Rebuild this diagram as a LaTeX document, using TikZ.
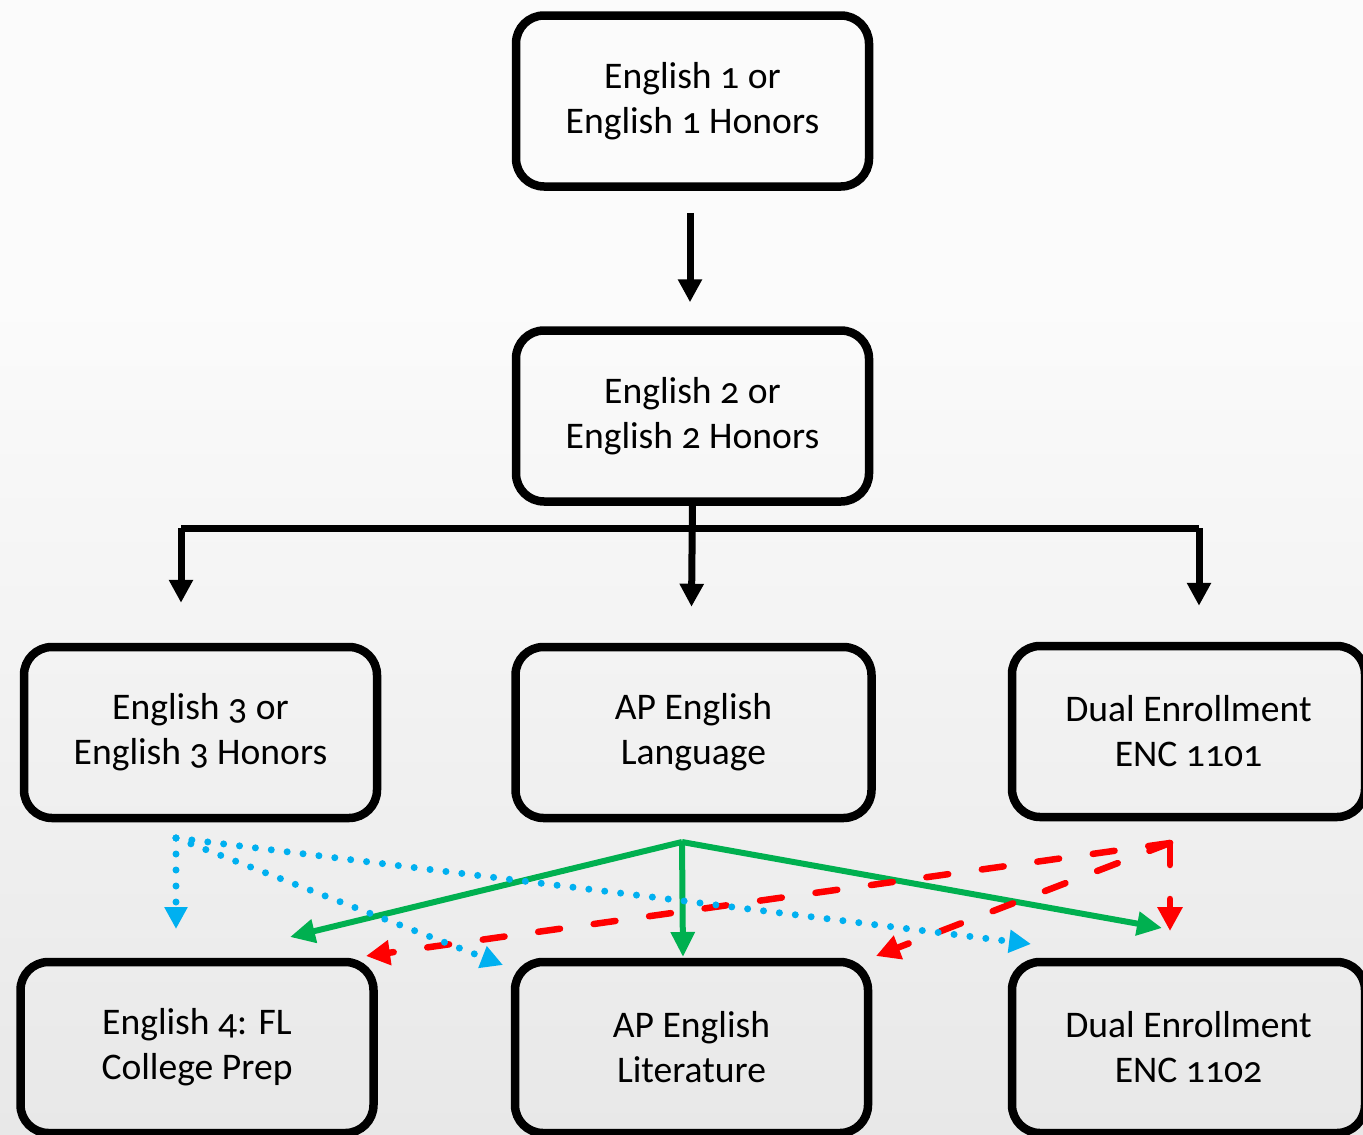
\documentclass[tikz,border=0pt]{standalone}
\usepackage{fontspec}
\setmainfont{Carlito}[Numbers=OldStyle]
\usetikzlibrary{arrows.meta}
\definecolor{pgreen}{HTML}{00B050}
\definecolor{pred}{HTML}{FF0000}
\definecolor{pblue}{HTML}{00B0F0}
\definecolor{bgtop}{HTML}{FBFBFB}
\definecolor{bgbot}{HTML}{E8E8E8}
\tikzset{
  course/.style={draw=black, line width=8.5pt, rounded corners=28pt,
    minimum width=353pt, minimum height=171pt, align=center,
    font=\fontsize{37.6}{45}\selectfont, inner sep=0pt},
  blackarrow/.style={draw=black, line width=7pt, -{Triangle[length=23pt,width=23pt]}},
  blackline/.style={draw=black, line width=7pt},
  greenarrow/.style={draw=pgreen, line width=6pt, -{Triangle[length=25pt,width=23pt]}},
  redarrow/.style={draw=pred, line width=6.5pt, line cap=round, dash pattern=on 22pt off 34pt, -{Triangle[length=24pt,width=24pt]}},
  bluearrow/.style={draw=pblue, line width=7pt, line cap=round, dash pattern=on 0pt off 16pt, -{Triangle[length=22pt,width=22pt]}}
}
\begin{document}
\begin{tikzpicture}[x=1pt,y=-1pt]
\useasboundingbox (0,0) rectangle (1363,1135);
\fill[bgtop] (0,0) rectangle (1363,300);
\shade[top color=bgtop, bottom color=bgbot] (0,300) rectangle (1363,1135);
\clip (0,0) rectangle (1363,1135);

\node[course] (b1) at (692.5,101) {English 1 or\\English 1 Honors};
\node[course] (b2) at (692.5,416) {English 2 or\\English 2 Honors};
\node[course] (b3l) at (200.5,732.5) {English 3 or\\English 3 Honors};
\node[course, minimum width=356pt] (b3m) at (693.5,732.5) {AP English\\Language};
\node[course] (b3r) at (1188.5,731.5) {Dual Enrollment\\ENC 1101};
\node[course] (b4l) at (197,1047.5) {English 4: FL\\College Prep};
\node[course] (b4m) at (691.5,1047.5) {AP English\\Literature};
\node[course] (b4r) at (1188.5,1047.5) {Dual Enrollment\\ENC 1102};

% black connectors
\draw[blackarrow] ([xshift=-2.5pt,yshift=-22pt]b1.south) -- ([xshift=-2.5pt,yshift=24pt]b2.north);
\coordinate (tl) at (181,528);
\coordinate (tr) at (1199,528);
\draw[blackline] (tl) -- (tr);
\draw[blackarrow] ([yshift=6pt]b2.south) -- ([xshift=-2pt,yshift=36pt]b3m.north);
\draw[blackarrow] (tl) -- ([yshift=40pt]b3l.north -| tl);
\draw[blackarrow] (tr) -- ([yshift=36pt]b3r.north -| tr);

% green
\coordinate (g0) at (682,842);
\coordinate (g1) at (290,937);
\coordinate (g2) at (683,957);
\coordinate (g3) at (1162,928);
\draw[greenarrow] (g0) -- (g1);
\draw[greenarrow] (g0) -- (g2);
\draw[greenarrow] (g0) -- (g3);

% red
\coordinate (r0) at (1170,843);
\coordinate (r1) at (366,956);
\coordinate (r2) at (876,956);
\coordinate (r3) at (1170,931);
\draw[redarrow] (r0) -- (r1);
\draw[redarrow] (r0) -- (r2);
\draw[redarrow] (r0) -- (r3);

% blue
\coordinate (c0) at (176,838);
\coordinate (c1) at (176,929);
\coordinate (c2) at (503,965);
\coordinate (c3) at (1031,944);
\draw[bluearrow] (c0) -- (c1);
\draw[bluearrow] (c0) -- (c2);
\draw[bluearrow] (c0) -- (c3);
\end{tikzpicture}
\end{document}
